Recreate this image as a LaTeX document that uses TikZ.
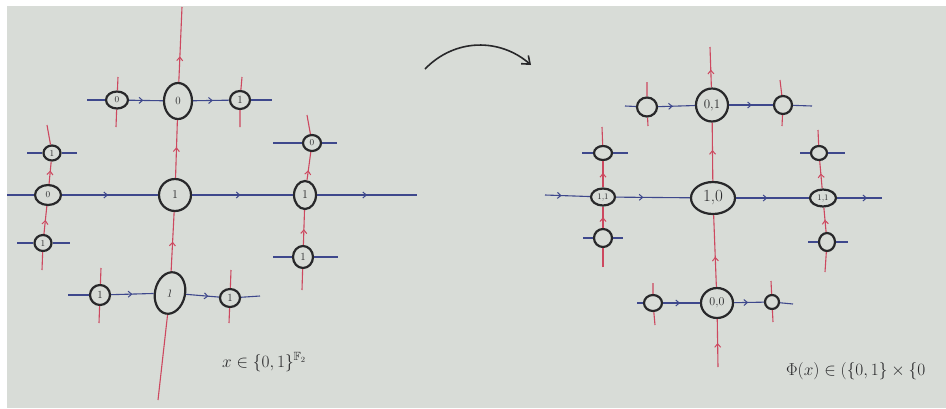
\documentclass[tikz,border=0pt]{standalone}
\usepackage{amssymb}
\usetikzlibrary{shapes.geometric,decorations.markings,arrows.meta}
\definecolor{paper}{RGB}{216,220,215}
\definecolor{ink}{RGB}{40,40,42}
\definecolor{bl}{RGB}{62,72,140}
\definecolor{rd}{RGB}{205,72,95}
\begin{document}
\begin{tikzpicture}[x=1pt,y=-1pt,
  nd/.style={ellipse, draw=ink, line width=2.2pt, fill=paper, inner sep=0pt, text=ink, font=\fontsize{11}{11}\selectfont},
  bline/.style={color=bl, line width=1.1pt},
  rline/.style={color=rd, line width=1.1pt},
  marr/.style={postaction={decorate}, decoration={markings, mark=at position #1 with {\arrow{Straight Barb[length=3.5pt,width=6pt,line width=1pt]}}}},
  lbl/.style={text=ink, inner sep=0pt, anchor=west}]
% paper
\fill[white] (0,0) rectangle (946,408);
\fill[paper] (7,6) rectangle (946,408);
\useasboundingbox (0,0) rectangle (946,408);

% ================= LEFT DIAGRAM =================
\node[nd, minimum width=28pt, minimum height=36pt] (LT) at (178,101) {0};
\node[nd, minimum width=22pt, minimum height=17pt, font=\fontsize{9}{9}\selectfont] (LTL) at (117,100) {0};
\node[nd, minimum width=20pt, minimum height=18pt] (LTR) at (240,100) {1};
\node[nd, minimum width=32pt, minimum height=32pt, font=\fontsize{12}{12}\selectfont] (LC) at (175,195) {1};
\node[nd, minimum width=26pt, minimum height=20pt, font=\fontsize{9}{9}\selectfont] (LL) at (48,195) {0};
\node[nd, minimum width=17pt, minimum height=15pt, font=\fontsize{9}{9}\selectfont] (LLT) at (52,153) {1};
\node[nd, minimum width=17pt, minimum height=16pt, font=\fontsize{9}{9}\selectfont] (LLB) at (43,243) {1};
\node[nd, minimum width=22pt, minimum height=28pt, font=\fontsize{12}{12}\selectfont] (LR) at (305,195) {1};
\node[nd, minimum width=18pt, minimum height=16pt, font=\fontsize{9}{9}\selectfont] (LRT) at (312,143) {0};
\node[nd, minimum width=20pt, minimum height=22pt] (LRB) at (303,257) {1};
\node[nd, minimum width=30pt, minimum height=42pt, rotate=-12] (LB) at (170,293) {1};
\node[nd, minimum width=20pt, minimum height=20pt] (LBL) at (100,295) {1};
\node[nd, minimum width=20pt, minimum height=18pt] (LBR) at (230,298) {1};

\coordinate (LVtop) at (182,7);
\coordinate (LVbot) at (158,400);
\coordinate (LHl) at (7,195);
\coordinate (LHr) at (417,195);
\coordinate (LTa) at (87,100);
\coordinate (LTb) at (272,100);
\coordinate (LTLu) at (118,77);
\coordinate (LTLd) at (116,127);
\coordinate (LTRu) at (242,77);
\coordinate (LTRd) at (240,127);
\coordinate (LLu) at (47,125);
\coordinate (LLd) at (42,270);
\coordinate (LLTa) at (27,153);
\coordinate (LLTb) at (77,153);
\coordinate (LLBa) at (17,243);
\coordinate (LLBb) at (70,243);
\coordinate (LRu) at (307,115);
\coordinate (LRd) at (302,290);
\coordinate (LRTa) at (273,143);
\coordinate (LRTb) at (337,143);
\coordinate (LRBa) at (273,257);
\coordinate (LRBb) at (338,257);
\coordinate (LBa) at (68,295);
\coordinate (LBb) at (260,296);
\coordinate (LBLu) at (101,268);
\coordinate (LBLd) at (99,323);
\coordinate (LBRu) at (231,270);
\coordinate (LBRd) at (229,323);

% main red vertical (upwards)
\draw[rline] (LVbot) -- (LB);
\draw[rline, marr=0.5] (LB) -- (LC);
\draw[rline, marr=0.53] (LC) -- (LT);
\draw[rline, marr=0.34] (LT) -- (LVtop);
% main blue horizontal
\draw[bline] (LHl) -- (LL);
\draw[bline, marr=0.48] (LL) -- (LC);
\draw[bline, marr=0.48] (LC) -- (LR);
\draw[bline, marr=0.5] (LR) -- (LHr);
% top row
\draw[bline] (LTa) -- (LTL);
\draw[bline, marr=0.42] (LTL) -- (LT);
\draw[bline, marr=0.55] (LT) -- (LTR);
\draw[bline] (LTR) -- (LTb);
\draw[rline] (LTLu) -- (LTL) -- (LTLd);
\draw[rline] (LTRu) -- (LTR) -- (LTRd);
% left column
\draw[rline] (LLd) -- (LLB);
\draw[rline, marr=0.5] (LLB) -- (LL);
\draw[rline, marr=0.6] (LL) -- (LLT);
\draw[rline] (LLT) -- (LLu);
\draw[bline] (LLTa) -- (LLT) -- (LLTb);
\draw[bline] (LLBa) -- (LLB) -- (LLBb);
% right column
\draw[rline] (LRd) -- (LRB);
\draw[rline, marr=0.45] (LRB) -- (LR);
\draw[rline, marr=0.35] (LR) -- (LRT);
\draw[rline] (LRT) -- (LRu);
\draw[bline] (LRTa) -- (LRT) -- (LRTb);
\draw[bline] (LRBa) -- (LRB) -- (LRBb);
% bottom row
\draw[bline] (LBa) -- (LBL);
\draw[bline, marr=0.5] (LBL) -- (LB);
\draw[bline, marr=0.68] (LB) -- (LBR);
\draw[bline] (LBR) -- (LBb);
\draw[rline] (LBLu) -- (LBL) -- (LBLd);
\draw[rline] (LBRu) -- (LBR) -- (LBRd);

\node[lbl, font=\fontsize{17}{17}\selectfont] (lab1) at (222,362) {$x\in\{0,1\}^{\mathbb{F}_2}$};

% ================= ARROW =================
\coordinate (A1) at (425,69);
\coordinate (A2) at (531,65);
\draw[ink, line width=1.6pt, -{Straight Barb[length=7pt,width=11pt,line width=1.6pt]}] (A1) .. controls (455,38) and (500,38) .. (A2);

% ================= RIGHT DIAGRAM =================
\node[nd, minimum width=32pt, minimum height=33pt, font=\fontsize{13}{13}\selectfont] (RT) at (712,105) {0,1};
\node[nd, minimum width=20pt, minimum height=19pt] (RTL) at (647,107) {};
\node[nd, minimum width=18pt, minimum height=18pt] (RTR) at (783,105) {};
\node[nd, minimum width=44pt, minimum height=32pt, font=\fontsize{17}{17}\selectfont] (RC) at (713,198) {1,0};
\node[nd, minimum width=24pt, minimum height=17pt, font=\fontsize{8.5}{8.5}\selectfont] (RL) at (603,197) {1,1};
\node[nd, minimum width=18pt, minimum height=14pt] (RLT) at (603,153) {};
\node[nd, minimum width=18pt, minimum height=18pt] (RLB) at (603,238) {};
\node[nd, minimum width=26pt, minimum height=17pt, font=\fontsize{8.5}{8.5}\selectfont] (RR) at (823,198) {1,1};
\node[nd, minimum width=16pt, minimum height=14pt] (RRT) at (819,153) {};
\node[nd, minimum width=16pt, minimum height=18pt] (RRB) at (827,242) {};
\node[nd, minimum width=32pt, minimum height=30pt, font=\fontsize{12}{12}\selectfont] (RB) at (717,303) {0,0};
\node[nd, minimum width=18pt, minimum height=16pt] (RBL) at (653,303) {};
\node[nd, minimum width=14pt, minimum height=14pt] (RBR) at (772,302) {};

\coordinate (RVtop) at (710,47);
\coordinate (RVbot) at (718,367);
\coordinate (RHl) at (545,195);
\coordinate (RHr) at (882,198);
\coordinate (RTa) at (625,106);
\coordinate (RTb) at (812,106);
\coordinate (RTLu) at (647,82);
\coordinate (RTLd) at (648,126);
\coordinate (RTRu) at (780,80);
\coordinate (RTRd) at (782,126);
\coordinate (RLu) at (602,127);
\coordinate (RLd) at (603,267);
\coordinate (RLTa) at (582,153);
\coordinate (RLTb) at (628,153);
\coordinate (RLBa) at (583,238);
\coordinate (RLBb) at (623,238);
\coordinate (RRu) at (818,130);
\coordinate (RRd) at (825,272);
\coordinate (RRTa) at (800,153);
\coordinate (RRTb) at (845,153);
\coordinate (RRBa) at (808,242);
\coordinate (RRBb) at (848,242);
\coordinate (RBa) at (637,303);
\coordinate (RBb) at (793,304);
\coordinate (RBLu) at (653,283);
\coordinate (RBLd) at (655,325);
\coordinate (RBRu) at (771,281);
\coordinate (RBRd) at (773,322);

% main red vertical
\draw[rline, marr=0.5] (RVbot) -- (RB);
\draw[rline, marr=0.42] (RB) -- (RC);
\draw[rline, marr=0.53] (RC) -- (RT);
\draw[rline, marr=0.44] (RT) -- (RVtop);
% main blue
\draw[bline, marr=0.37] (RHl) -- (RL);
\draw[bline, marr=0.37] (RL) -- (RC);
\draw[bline, marr=0.43] (RC) -- (RR);
\draw[bline, marr=0.67] (RR) -- (RHr);
% top row
\draw[bline] (RTa) -- (RTL);
\draw[bline, marr=0.4] (RTL) -- (RT);
\draw[bline, marr=0.52] (RT) -- (RTR);
\draw[bline] (RTR) -- (RTb);
\draw[rline] (RTLu) -- (RTL) -- (RTLd);
\draw[rline] (RTRu) -- (RTR) -- (RTRd);
% left column
\draw[rline] (RLd) -- (RLB);
\draw[rline, marr=0.5] (RLB) -- (RL);
\draw[rline, marr=0.55] (RL) -- (RLT);
\draw[rline] (RLT) -- (RLu);
\draw[bline] (RLTa) -- (RLT) -- (RLTb);
\draw[bline] (RLBa) -- (RLB) -- (RLBb);
% right column
\draw[rline] (RRd) -- (RRB);
\draw[rline, marr=0.5] (RRB) -- (RR);
\draw[rline, marr=0.55] (RR) -- (RRT);
\draw[rline] (RRT) -- (RRu);
\draw[bline] (RRTa) -- (RRT) -- (RRTb);
\draw[bline] (RRBa) -- (RRB) -- (RRBb);
% bottom row
\draw[bline] (RBa) -- (RBL);
\draw[bline, marr=0.46] (RBL) -- (RB);
\draw[bline, marr=0.47] (RB) -- (RBR);
\draw[bline] (RBR) -- (RBb);
\draw[rline] (RBLu) -- (RBL) -- (RBLd);
\draw[rline] (RBRu) -- (RBR) -- (RBRd);

\node[lbl, font=\fontsize{18.5}{18.5}\selectfont] (lab2) at (786,371) {$\Phi(x)\in\bigl(\{0,1\}\times\{0$};
\end{tikzpicture}
\end{document}
